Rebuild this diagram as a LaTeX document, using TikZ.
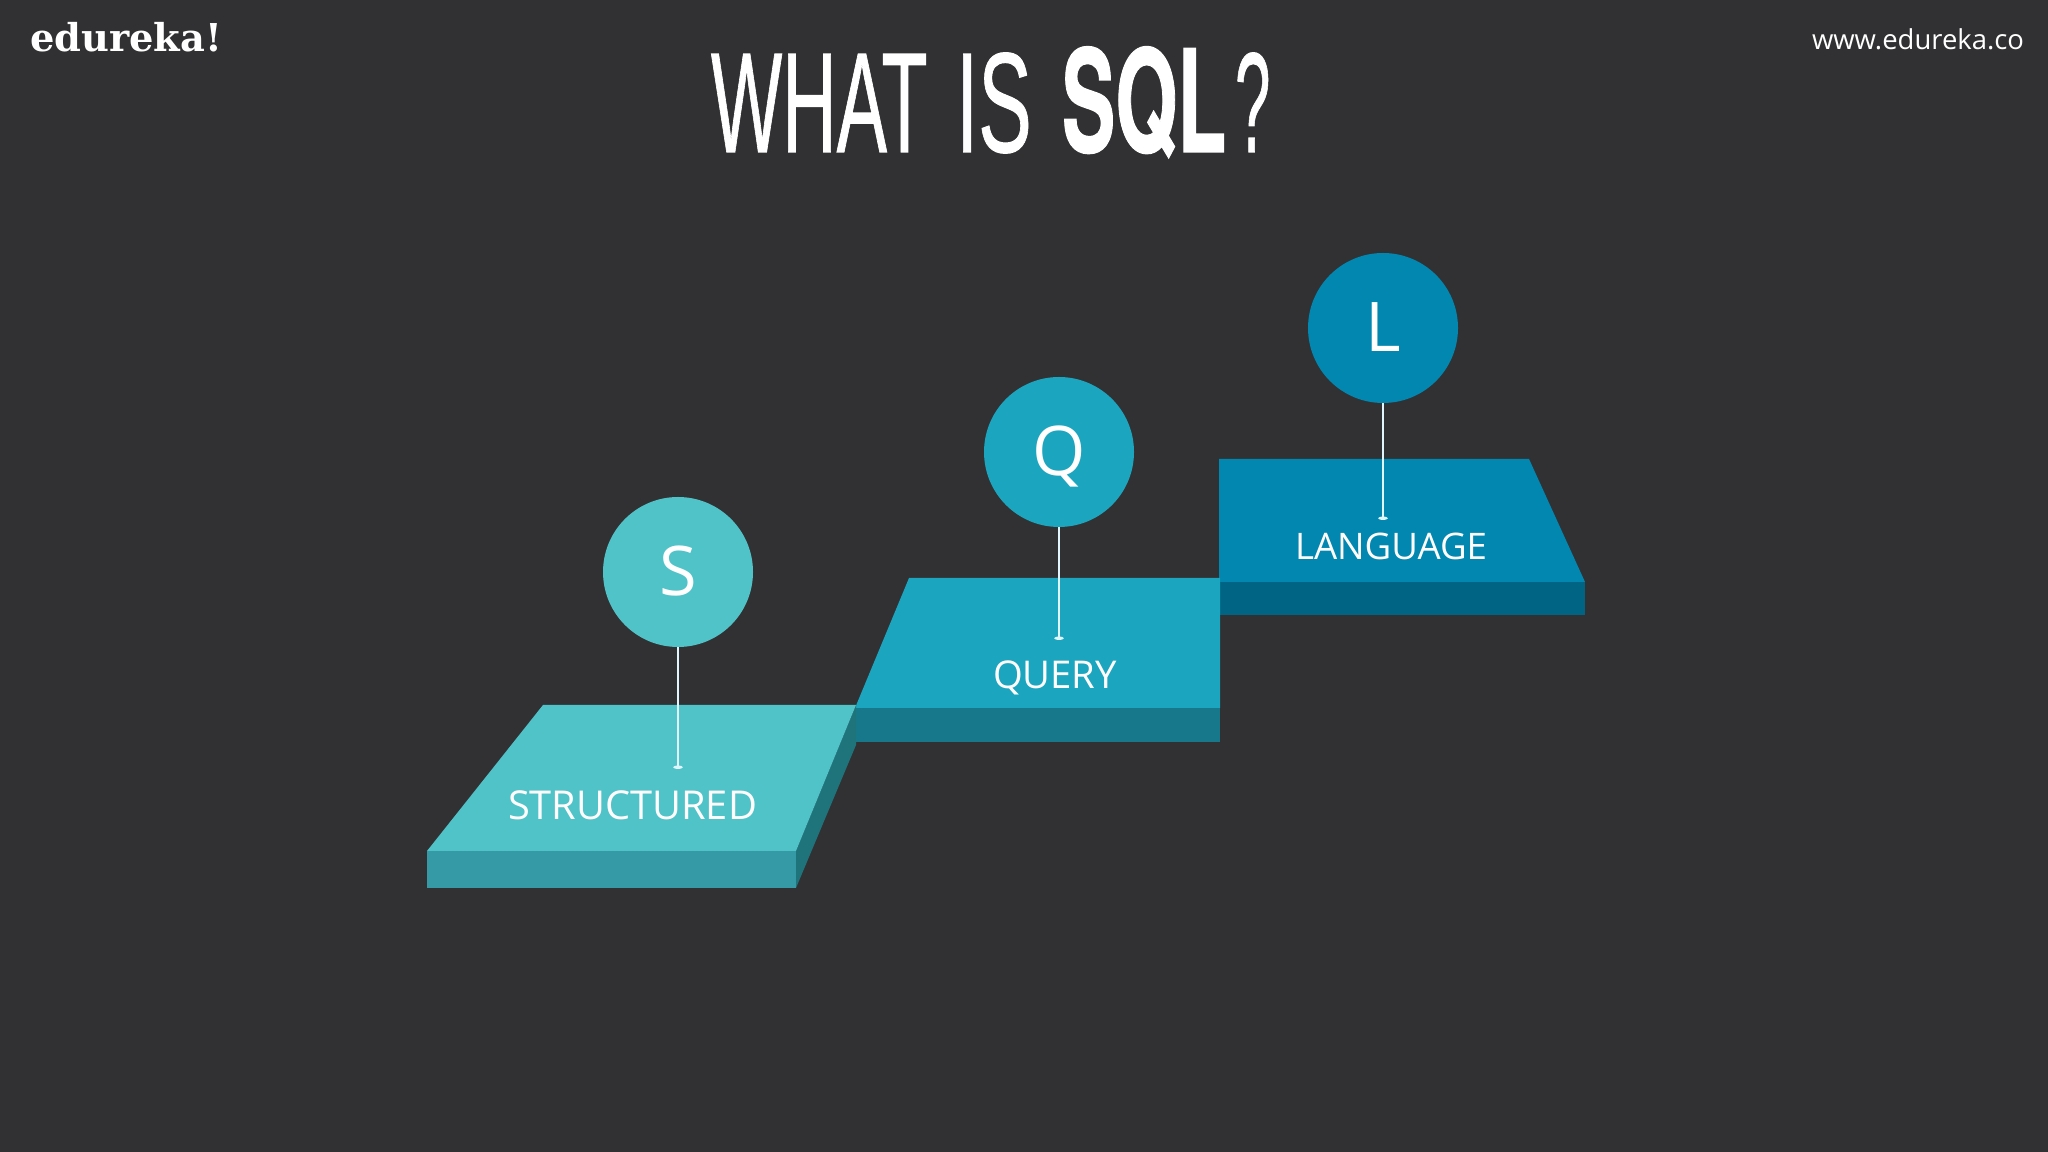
\documentclass[tikz,border=0pt]{standalone}
\usepackage{fontspec}
\usetikzlibrary{arrows.meta}
\setmainfont{Open Sans}
\newfontfamily\titlefont[FakeBold=0.8]{Liberation Sans}
\newfontfamily\sqlfont[BoldFeatures={FakeBold=1}]{TeX Gyre Heros}
\newfontfamily\brandfont{DejaVu Serif}
\definecolor{bgdark}{HTML}{313133}
\definecolor{stop}{HTML}{50C3C9}
\definecolor{sfront}{HTML}{359AA6}
\definecolor{sside}{HTML}{1F747C}
\definecolor{qtop}{HTML}{1CA5BF}
\definecolor{qfront}{HTML}{17788C}
\definecolor{ltop}{HTML}{0187B0}
\definecolor{lfront}{HTML}{006584}
\tikzset{
  x=0.1mm,y=-0.1mm,
  txt/.style={inner sep=0pt,outer sep=0pt,text=white,anchor=base west},
  ball/.style={circle,inner sep=0pt,outer sep=0pt,minimum size=15mm,text=white,text depth=0pt,text height=4.8mm,font=\fontsize{19.5pt}{20pt}\selectfont},
  stem/.style={draw=white!88!cyan,line width=0.3pt,-{Ellipse[length=1pt,width=2.6pt]}}
}
\begin{document}
\begin{tikzpicture}
\useasboundingbox (0,0) rectangle (2048,1152);
\fill[bgdark] (0,0) rectangle (2048,1152);
% brand and title
\node[txt] (brand) at (30,52) {\resizebox{19.2mm}{!}{\brandfont\bfseries edureka!}};
\node[txt] (site) at (1812,50) {\resizebox{21.2mm}{!}{www.edureka.co}};
\node[txt] (tw1) at (711,152) {\scalebox{0.53}[1]{\fontsize{40.5pt}{41pt}\titlefont WHAT}};
\node[txt] (tw2) at (956,152) {\scalebox{0.563}[1]{\fontsize{40.5pt}{41pt}\titlefont IS}};
\node[txt] (tw3) at (1062,152) {\scalebox{0.561}[1]{\fontsize{40.5pt}{41pt}\sqlfont\bfseries SQL}};
\node[txt] (tw4) at (1235,152) {\scalebox{0.447}[1]{\fontsize{40.5pt}{41pt}\titlefont ?}};
% step L
\fill[lfront] (1219,582) -- (1585,582) -- (1585,615) -- (1219,615) -- cycle;
\fill[ltop] (1219,459) -- (1529,459) -- (1585,582) -- (1219,582) -- cycle;
% step Q
\fill[qfront] (855,708) -- (1220,708) -- (1220,742) -- (855,742) -- cycle;
\fill[qtop] (909,578) -- (1220,578) -- (1220,708) -- (855,708) -- cycle;
% step S
\fill[sside] (796,851) -- (856,705) -- (856,745) -- (796,888) -- cycle;
\fill[sfront] (427,851) -- (796,851) -- (796,888) -- (427,888) -- cycle;
\fill[stop] (543,705) -- (856,705) -- (796,851) -- (427,851) -- cycle;
% labels
\node[txt] (ls) at (508,820) {\resizebox{24.9mm}{!}{STRUCTURED}};
\node[txt] (lq) at (993,689) {\resizebox{12.4mm}{!}{QUERY}};
\node[txt] (ll) at (1295,560) {\resizebox{19.2mm}{!}{LANGUAGE}};
% circles and stems
\node[ball,fill=stop] (cs) at (678,572) {S};
\node[ball,fill=qtop] (cq) at (1059,452) {Q};
\node[ball,fill=ltop] (cl) at (1383,328) {L};
\coordinate (es) at (678,769);
\coordinate (eq) at (1059,640);
\coordinate (el) at (1383,520);
\draw[stem] (cs) -- (es);
\draw[stem] (cq) -- (eq);
\draw[stem] (cl) -- (el);
\end{tikzpicture}
\end{document}
